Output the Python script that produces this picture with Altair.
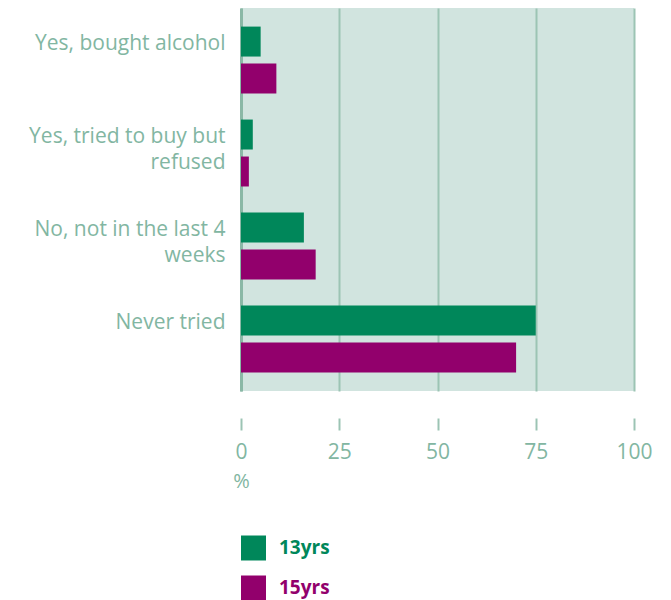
import altair as alt
import pandas as pd

categories = ["Yes, bought alcohol", "Yes, tried to buy but refused",
              "No, not in the last 4 weeks", "Never tried"]
category_lines = ["Yes, bought alcohol", "Yes, tried to buy but|refused",
                  "No, not in the last 4|weeks", "Never tried"]
groups = ["13yrs", "15yrs"]
values_13 = [5, 3, 16, 75]
values_15 = [9, 2, 19, 70]
x_ticks = [0, 25, 50, 75, 100]
colors = ["#00875a", "#92006c"]

rows = []
for c, lab, a, b in zip(categories, category_lines, values_13, values_15):
    rows.append({"category": lab, "group": groups[0], "value": a})
    rows.append({"category": lab, "group": groups[1], "value": b})
df = pd.DataFrame(rows)

FONT = "Open Sans"
TXT = "#82b6a2"
GRID = "#9cc4b4"

bars = alt.Chart(df).mark_bar().encode(
    y=alt.Y("category:N", sort=category_lines,
            scale=alt.Scale(paddingInner=0.28, paddingOuter=0.2),
            axis=alt.Axis(title=None, ticks=False, domain=True, domainColor="#8ab8a6",
                          domainWidth=3, labelFont=FONT, labelFontSize=21,
                          labelColor=TXT, labelAlign="right", labelBaseline="top",
                          labelOffset=-27, labelPadding=16, labelLineHeight=26,
                          labelExpr="split(datum.label, '|')", labelLimit=400,
                          minExtent=233, maxExtent=233)),
    yOffset=alt.YOffset("group:N", sort=groups,
                        scale=alt.Scale(paddingInner=0.19, paddingOuter=0)),
    x=alt.X("value:Q", scale=alt.Scale(domain=[0, 100], nice=False),
            axis=alt.Axis(values=x_ticks, title="%", offset=27, tickSize=12,
                          tickWidth=2, tickColor=GRID, domain=False,
                          grid=True, gridColor=GRID, gridWidth=2,
                          labelFont=FONT, labelFontSize=21, labelColor=TXT,
                          labelFlush=False, labelPadding=11,
                          titleFont=FONT, titleFontSize=20,
                          titleFontWeight="normal", titleColor=TXT,
                          titleX=0, titleY=69, titleAlign="center",
                          titleBaseline="alphabetic")),
    color=alt.Color("group:N", sort=groups,
                    scale=alt.Scale(domain=groups, range=colors), legend=None),
).properties(width=393, height=383,
             view=alt.ViewBackground(fill="#d1e4df", stroke=None))

leg_df = pd.DataFrame({"group": groups})
leg_base = alt.Chart(leg_df).encode(
    y=alt.Y("group:N", sort=groups, axis=None,
            scale=alt.Scale(padding=0.325)),
    color=alt.Color("group:N", sort=groups,
                    scale=alt.Scale(domain=groups, range=colors), legend=None),
)
leg_sq = leg_base.mark_square(size=625, opacity=1, filled=True).encode(x=alt.value(12.5))
leg_tx = leg_base.mark_text(align="left", baseline="middle", font=FONT,
                            fontSize=19, fontWeight="bold").encode(
    x=alt.value(38), text="group:N")
legend = (leg_sq + leg_tx).properties(width=393, height=66,
                                      view=alt.ViewBackground(fill=None, stroke=None))

chart = alt.vconcat(bars, legend, spacing=44).properties(
    padding={"left": 0, "top": 0, "right": 5, "bottom": 0}
).configure_view(stroke=None)

chart.save("out.html", embed_options={"renderer": "svg", "actions": False})
